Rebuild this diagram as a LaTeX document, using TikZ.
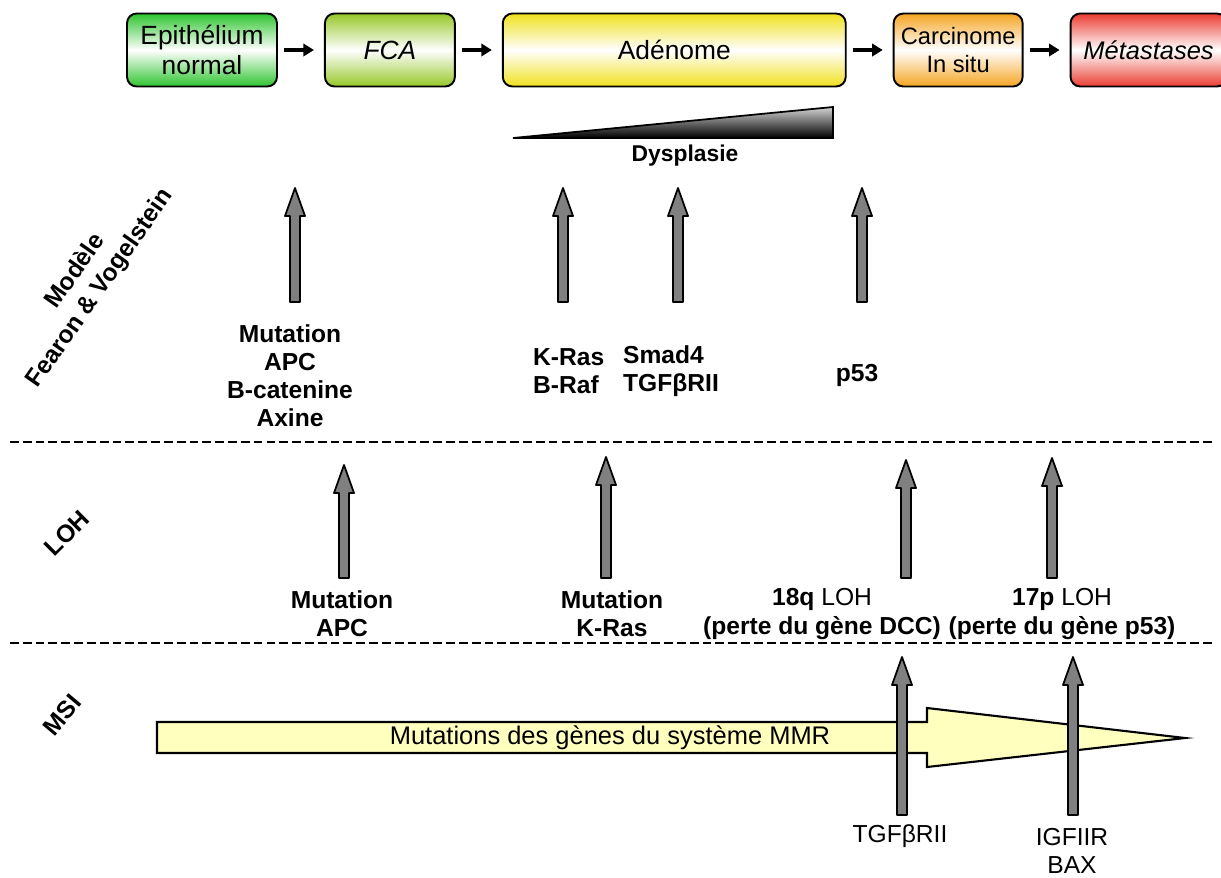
\documentclass[tikz,border=0pt]{standalone}
\usepackage{fontspec}
\setmainfont{Liberation Sans}
\usepackage{tikz}
\usetikzlibrary{arrows.meta,calc,positioning}

\definecolor{epigreen}{RGB}{46,196,46}
\definecolor{fcagreen}{RGB}{150,200,40}
\definecolor{adenyellow}{RGB}{240,225,30}
\definecolor{carcorange}{RGB}{245,165,35}
\definecolor{metared}{RGB}{235,60,50}
\definecolor{arrowgray}{RGB}{128,128,128}
\definecolor{msiyellow}{RGB}{255,255,190}

\tikzstyle{stagebox}=[draw=black,line width=1.1pt,rounded corners=5.5pt,minimum height=1.46cm,inner sep=0pt,align=center,font=\fontsize{15}{17}\selectfont]
\tikzstyle{stagelink}=[-{Triangle[length=6pt,width=7pt]},line width=2pt,shorten <=0.12cm,shorten >=0.2cm]
\tikzstyle{fatarrow}=[draw=black,line width=1pt,fill=arrowgray,line join=round]
\tikzstyle{sepline}=[line width=1.1pt,dash pattern=on 5pt off 2.3pt]
\tikzstyle{rowtitle}=[font=\fontsize{14}{17}\selectfont\bfseries,align=center]
\tikzstyle{genelabel}=[font=\fontsize{14}{16}\selectfont\bfseries,align=center]

\newcommand{\grayarrow}[2]{%
  \draw[fatarrow] ($(#1)+(-5,0)$) -- ($(#2)+(-5,28)$) -- ($(#2)+(-10,28)$) -- (#2)
    -- ($(#2)+(10,28)$) -- ($(#2)+(5,28)$) -- ($(#1)+(5,0)$) -- cycle;}

\begin{document}
\begin{tikzpicture}[x=0.02cm,y=-0.02cm,node distance=0.92cm]
	\useasboundingbox (0,0) rectangle (1221,877);

	% stades
	\node[stagebox,minimum width=3cm,top color=epigreen,bottom color=epigreen,middle color=white] (epi) at (202,50) {Epithélium\\normal};
	\node[stagebox,minimum width=2.6cm,top color=fcagreen,bottom color=fcagreen,middle color=white] (fca) [right=of epi] {\itshape FCA};
	\node[stagebox,minimum width=6.86cm,top color=adenyellow,bottom color=adenyellow,middle color=white] (aden) [right=of fca] {Adénome};
	\node[stagebox,minimum width=2.58cm,top color=carcorange,bottom color=carcorange,middle color=white,font=\fontsize{13.5}{16}\selectfont] (carc) [right=of aden] {Carcinome\\In situ};
	\node[stagebox,minimum width=3.12cm,top color=metared,bottom color=metared,middle color=white,font=\fontsize{14.5}{17}\selectfont] (meta) [right=of carc] {\itshape Métastases};

\path[stagelink] (epi) edge (fca)
			(fca) edge (aden)
			(aden) edge (carc)
			(carc) edge (meta);

	% dysplasie
	\draw[line width=1pt,top color=gray!35,bottom color=black] (513,138) -- (833,107) -- (833,138) -- cycle;
	\node[genelabel,font=\fontsize{13}{15}\selectfont\bfseries] (dysp) at (685,156) {Dysplasie};

	% titres des lignes
	\node[rowtitle,rotate=55] (fvTitle) at (88,280) {Modèle\\Fearon \& Vogelstein};
	\node[rowtitle,rotate=45] (lohTitle) at (67,533) {LOH};
	\node[rowtitle,rotate=50] (msiTitle) at (62,715) {MSI};

	% separations
	\coordinate (sepA1) at (10,442);
	\coordinate (sepA2) at (1212,442);
	\coordinate (sepB1) at (10,643);
	\coordinate (sepB2) at (1212,643);
	\draw[sepline] (sepA1) -- (sepA2);
	\draw[sepline] (sepB1) -- (sepB2);

	% Fearon & Vogelstein
	\foreach \name/\x in {Apc/295,Ras/563,Smad/678,Pqt/862} {
		\coordinate (fv\name Tip) at (\x,188);
		\coordinate (fv\name Foot) at (\x,302);
		\grayarrow{fv\name Foot}{fv\name Tip}
	}
	\node[genelabel] (fvApc) at (290,376) {Mutation\\APC\\B-catenine\\Axine};
	\node[genelabel,align=left,anchor=west] (fvRas) at (527,371) {K-Ras\\B-Raf};
	\node[genelabel,align=left,anchor=west] (fvSmad) at (617,371) {Smad4\\TGFβRII};
	\node[genelabel] (fvPqt) at (857,375) {p53};

	% LOH
	\foreach \name/\x/\y in {Apc/344/465,Ras/606/457,Dcc/906/460,Pqt/1052/458} {
		\coordinate (loh\name Tip) at (\x,\y);
		\coordinate (loh\name Foot) at (\x,578);
		\grayarrow{loh\name Foot}{loh\name Tip}
	}
	\node[genelabel] (lohApc) at (342,614) {Mutation\\APC};
	\node[genelabel] (lohRas) at (612,614) {Mutation\\K-Ras};
	\node[genelabel] (lohDcc) at (822,614) {18q {\mdseries LOH}\\(perte du gène DCC)};
	\node[genelabel] (lohPqt) at (1062,614) {17p {\mdseries LOH}\\(perte du gène p53)};

	% MSI
	\draw[line width=1.2pt,fill=msiyellow,line join=miter] (157,722) -- (927,722) -- (927,708) -- (1185,738) -- (927,767) -- (927,753) -- (157,753) -- cycle;
	\node[font=\fontsize{14.5}{16}\selectfont] (mmr) at (610,738) {Mutations des gènes du système MMR};
	\foreach \name/\x in {Tgf/902,Igf/1073} {
		\coordinate (msi\name Tip) at (\x,657);
		\coordinate (msi\name Foot) at (\x,815);
		\grayarrow{msi\name Foot}{msi\name Tip}
	}
	\node[genelabel,font=\fontsize{14}{16}\selectfont] (msiTgf) at (900,836) {TGFβRII};
	\node[genelabel,font=\fontsize{14}{16}\selectfont] (msiIgf) at (1072,851) {IGFIIR\\BAX};

\end{tikzpicture}
\end{document}
